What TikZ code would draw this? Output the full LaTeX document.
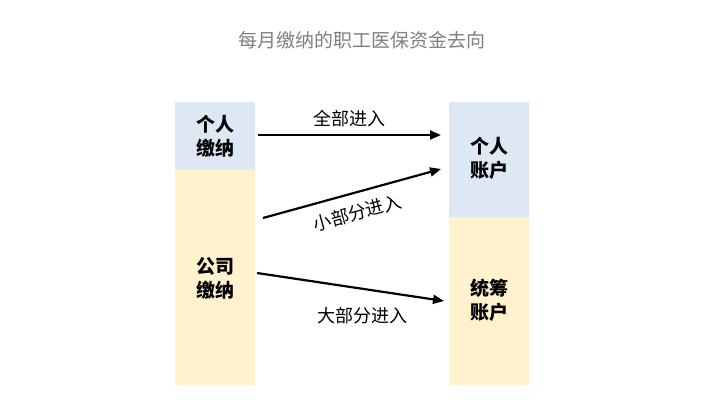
\documentclass[tikz,border=0pt]{standalone}
\usepackage{fontspec}
\setmainfont{Noto Sans CJK SC}
\usetikzlibrary{arrows.meta}
\definecolor{acctblue}{HTML}{DEE8F4}
\definecolor{acctyellow}{HTML}{FFF2CC}
\definecolor{titlegray}{HTML}{7F7F7F}
\tikzset{
  part/.style={rectangle, inner sep=0pt, minimum width=80pt, anchor=north west},
  tag/.style={font=\fontsize{19}{24}\selectfont\bfseries, align=center},
  flow/.style={line width=2.2pt, -{Triangle[length=11pt, width=9pt]}},
  flowtext/.style={font=\fontsize{18}{21}\selectfont}
}
\begin{document}
\begin{tikzpicture}[x=1pt, y=-1pt]
  \useasboundingbox (0,0) rectangle (725,409);
  \node (title) [text=titlegray, font=\fontsize{19}{22}\selectfont] at (362,40) {每月缴纳的职工医保资金去向};
  % left column
  \node (own) [part, fill=acctblue, minimum height=68pt] at (175,102) {};
  \node (firm) [part, fill=acctyellow, minimum height=215pt] at (175,170) {};
  % right column
  \node (personal) [part, fill=acctblue, minimum height=115pt] at (449,102) {};
  \node (pool) [part, fill=acctyellow, minimum height=168pt] at (449,217) {};
  \node (ownlbl) [tag] at (215,136) {个人\\缴纳};
  \node (firmlbl) [tag] at (215,278) {公司\\缴纳};
  \node (personallbl) [tag] at (489,158) {个人\\账户};
  \node (poollbl) [tag] at (489,300) {统筹\\账户};
  \coordinate (a1) at (258,135);
  \coordinate (b1) at (441,135);
  \coordinate (a2) at (263,218);
  \coordinate (b2) at (441,169);
  \coordinate (a3) at (257,273);
  \coordinate (b3) at (444,301);
  \draw [flow] (a1) -- node [flowtext, above=4pt] {全部进入} (b1);
  \draw [flow] (a2) -- node [flowtext, below=7pt, sloped] {小部分进入} (b2);
  \draw [flow] (a3) -- (b3);
  \node (bigtext) [flowtext] at (362,316) {大部分进入};
\end{tikzpicture}
\end{document}
